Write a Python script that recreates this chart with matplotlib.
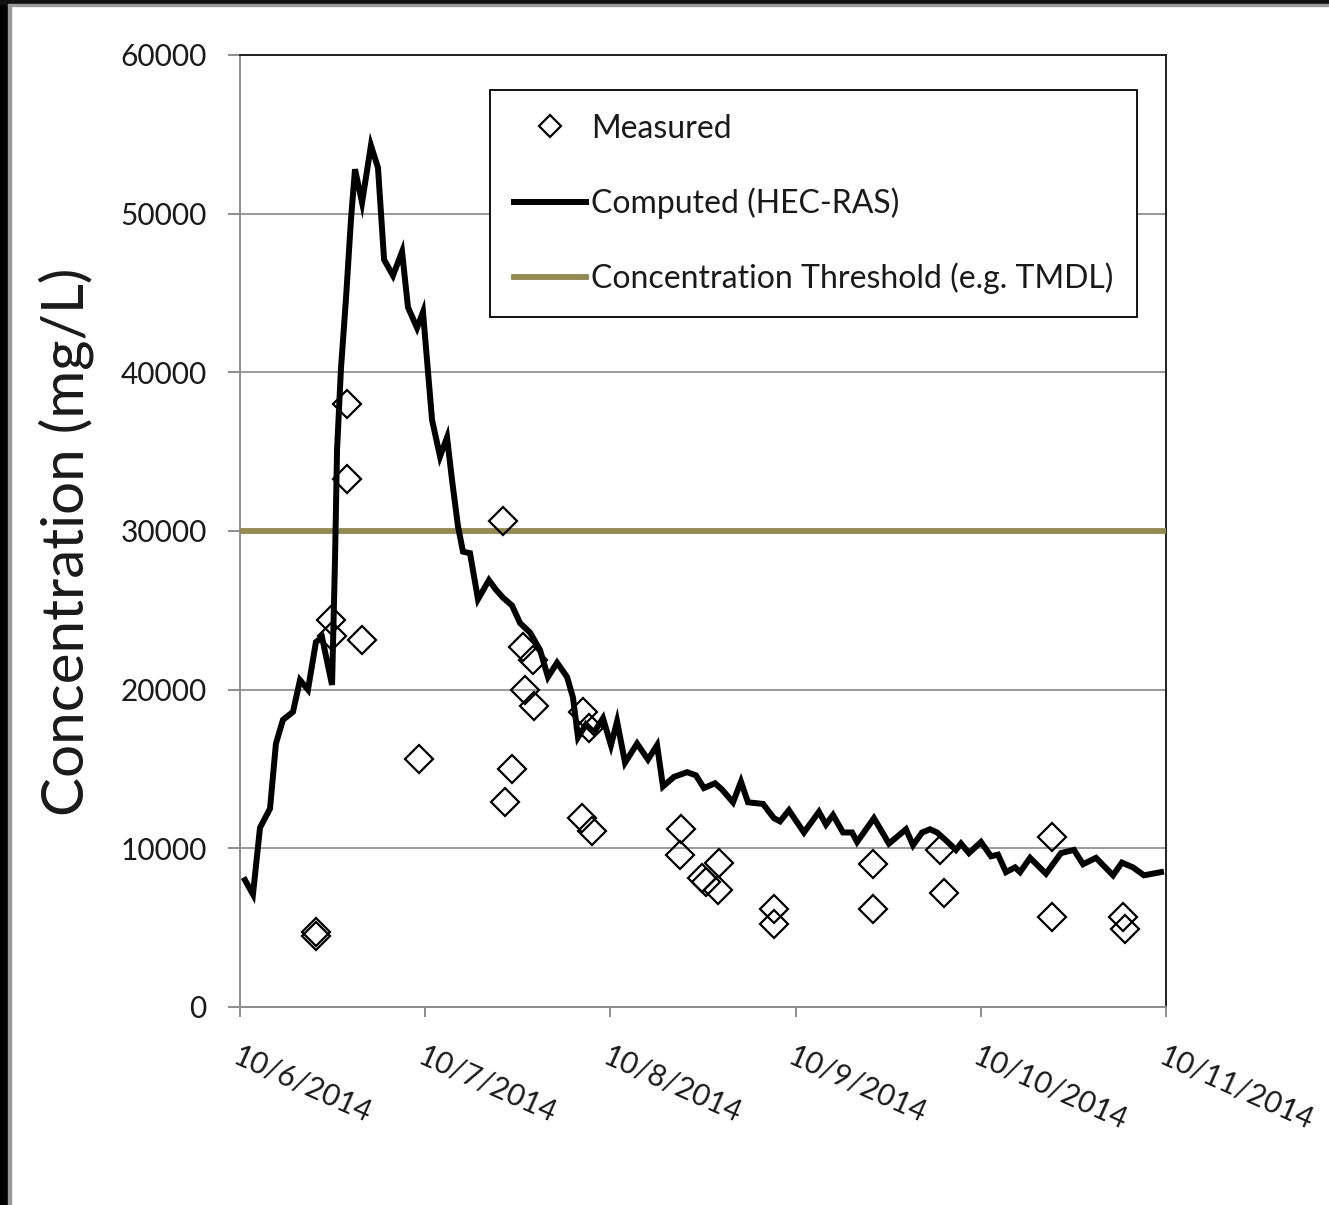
import matplotlib
matplotlib.use("Agg")
import matplotlib.pyplot as plt
from matplotlib.patches import Rectangle
from matplotlib.lines import Line2D

# days since 10/6/2014 00:00
comp_day = [0.027, 0.070, 0.108, 0.162, 0.194, 0.232, 0.286, 0.324, 0.367, 0.410,
            0.443, 0.497, 0.513, 0.524, 0.545, 0.572, 0.599, 0.621, 0.659, 0.707,
            0.745, 0.778, 0.826, 0.875, 0.907, 0.956, 0.988, 1.037, 1.080, 1.118,
            1.145, 1.177, 1.204, 1.242, 1.285, 1.344, 1.382, 1.420, 1.469, 1.512,
            1.566, 1.620, 1.663, 1.712, 1.766, 1.798, 1.825, 1.868, 1.911, 1.960,
            2.003, 2.036, 2.079, 2.144, 2.203, 2.252, 2.284, 2.343, 2.414, 2.462,
            2.505, 2.565, 2.603, 2.662, 2.705, 2.743, 2.824, 2.883, 2.916, 2.964,
            3.045, 3.126, 3.164, 3.202, 3.256, 3.305, 3.332, 3.423, 3.504, 3.596,
            3.634, 3.683, 3.726, 3.764, 3.812, 3.866, 3.893, 3.936, 4.001, 4.055,
            4.093, 4.136, 4.185, 4.212, 4.266, 4.352, 4.433, 4.503, 4.552, 4.622,
            4.714, 4.762, 4.822, 4.881, 4.973]
comp_conc = [8000, 7100, 11300, 12500, 16600, 18100, 18600, 20600, 20000, 23000,
             23300, 20300, 28200, 35100, 40200, 44600, 49600, 52800, 50700, 54300,
             52900, 47100, 46100, 47600, 44100, 42800, 43800, 37000, 34700, 35900,
             33200, 30300, 28700, 28600, 25700, 26900, 26300, 25800, 25300, 24200,
             23600, 22500, 20800, 21700, 20800, 19500, 17000, 17800, 17300, 18200,
             16500, 18000, 15400, 16600, 15600, 16500, 13900, 14500, 14800, 14600,
             13800, 14100, 13700, 12900, 14200, 12900, 12800, 11900, 11700, 12400,
             11000, 12300, 11500, 12100, 11000, 11000, 10400, 11900, 10300, 11200,
             10200, 11000, 11200, 11000, 10500, 9900, 10300, 9700, 10400, 9500,
             9600, 8500, 8800, 8500, 9400, 8400, 9700, 9900, 9000, 9400,
             8300, 9100, 8800, 8300, 8500]

meas_day = [0.410, 0.410, 0.491, 0.497, 0.578, 0.578, 0.659, 0.967, 1.420, 1.431,
            1.469, 1.528, 1.582, 1.539, 1.588, 1.852, 1.884, 1.847, 1.901, 2.381,
            2.376, 2.495, 2.516, 2.586, 2.581, 2.884, 2.884, 3.418, 3.418, 3.780,
            3.801, 4.384, 4.384, 4.768, 4.779]
meas_conc = [4700, 4500, 24400, 23400, 38000, 33300, 23100, 15600, 30600, 12900,
             15000, 22700, 21900, 20000, 19000, 18600, 17600, 11900, 11100, 11200,
             9600, 8100, 7900, 9100, 7400, 6200, 5200, 9000, 6200, 9900,
             7200, 10700, 5700, 5700, 4900]

threshold = 30000
day_ticks = [0, 1, 2, 3, 4, 5]
date_labels = ["10/6/2014", "10/7/2014", "10/8/2014", "10/9/2014", "10/10/2014", "10/11/2014"]
conc_ticks = [0, 10000, 20000, 30000, 40000, 50000, 60000]


def main():
    plt.rcParams["font.family"] = ["Lato", "DejaVu Sans"]
    W, H = 1329, 1205
    fig = plt.figure(figsize=(W / 100, H / 100), dpi=100)
    fig.patch.set_facecolor("white")
    ax = fig.add_axes([240 / W, 1 - 1007 / H, 926 / W, 952 / H])

    ax.plot([0, 5], [threshold, threshold], color="#938953", linewidth=4.2,
            solid_capstyle="butt", zorder=3)
    ax.plot(comp_day, comp_conc, color="black", linewidth=4.3,
            solid_joinstyle="miter", zorder=4)
    ax.plot(meas_day, meas_conc, linestyle="none", marker="D", markersize=14.5,
            markerfacecolor="none", markeredgecolor="black", markeredgewidth=1.6,
            zorder=5)

    ax.set_xlim(0, 5)
    ax.set_ylim(0, 60000)
    ax.set_yticks(conc_ticks)
    ax.set_yticklabels([str(v) for v in conc_ticks])
    ax.set_xticks(day_ticks)
    ax.set_xticklabels(date_labels, rotation=-24, ha="left", va="top",
                       rotation_mode="anchor")
    ax.grid(axis="y", color="#9a9a9a", linewidth=1.4, zorder=1)
    ax.set_axisbelow(True)

    for s in ["left", "bottom"]:
        ax.spines[s].set_color("#8c8c8c")
        ax.spines[s].set_linewidth(1.4)
    for s in ["top", "right"]:
        ax.spines[s].set_color("#202020")
        ax.spines[s].set_linewidth(1.4)
    ax.tick_params(axis="y", direction="out", length=9, width=1.4, color="#8c8c8c",
                   pad=15, labelsize=21.5, labelcolor="#1a1a1a")
    ax.tick_params(axis="x", direction="out", length=7, width=1.4, color="#8c8c8c",
                   pad=18, labelsize=21.5, labelcolor="#1a1a1a")

    fig.text(66 / W, 1 - 542 / H, "Concentration (mg/L)", rotation=90,
             ha="center", va="center", fontsize=42, color="#1a1a1a")

    handles = [
        Line2D([], [], linestyle="none", marker="D", markersize=11,
               markerfacecolor="none", markeredgecolor="black", markeredgewidth=1.6),
        Line2D([], [], color="black", linewidth=4.3),
        Line2D([], [], color="#938953", linewidth=4.2),
    ]
    labels = ["Measured", "Computed (HEC-RAS)", "Concentration Threshold (e.g. TMDL)"]
    leg = ax.legend(handles, labels, loc="upper right",
                    bbox_to_anchor=(0.9687, 0.9632), borderaxespad=0,
                    fontsize=23, frameon=True, fancybox=False, framealpha=1,
                    edgecolor="black", handlelength=2.25, handletextpad=0.16,
                    labelspacing=1.36, borderpad=0.74)
    leg.get_frame().set_linewidth(1.3)
    for t in leg.get_texts():
        t.set_color("#1a1a1a")

    # screenshot frame at left and top
    fig.patches.append(Rectangle((0, 0), 8 / W, 1, transform=fig.transFigure,
                                 color="black", zorder=10))
    fig.patches.append(Rectangle((8 / W, 0), 3 / W, 1, transform=fig.transFigure,
                                 color="#9a9a9a", zorder=10))
    fig.patches.append(Rectangle((0, 1 - 4 / H), 1, 4 / H, transform=fig.transFigure,
                                 color="#111111", zorder=10))
    fig.patches.append(Rectangle((8 / W, 1 - 6 / H), 1, 2 / H, transform=fig.transFigure,
                                 color="#9a9a9a", zorder=10))

    fig.savefig("out.png", dpi=100)


if __name__ == "__main__":
    main()
